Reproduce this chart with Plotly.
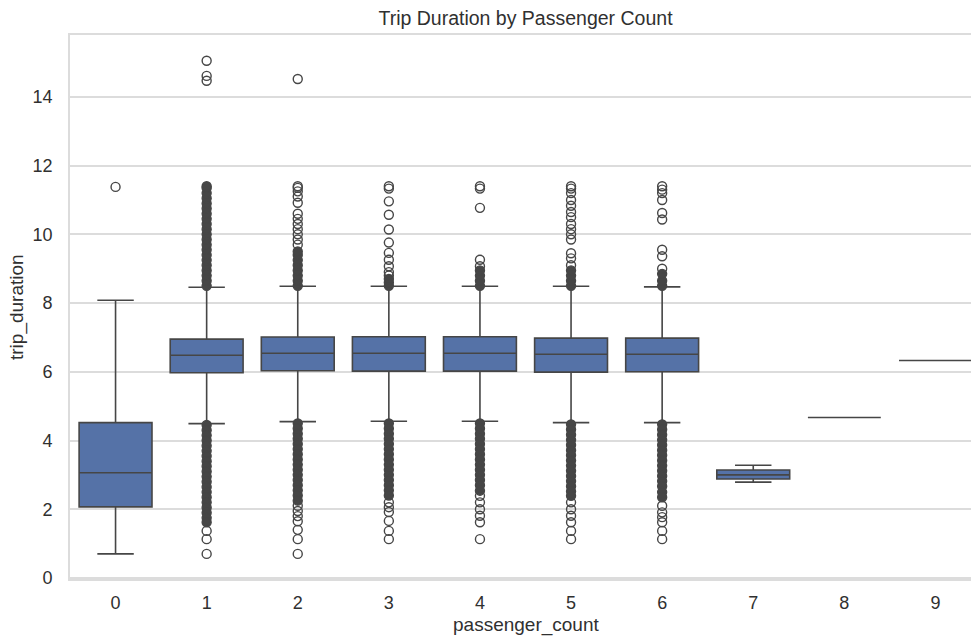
import plotly.graph_objects as go

# ---------------- data ----------------
categories = ["0", "1", "2", "3", "4", "5", "6", "7", "8", "9"]

q1_values = [2.07, 5.97, 6.03, 6.02, 6.02, 5.99, 6.00, 2.88, 4.67, 6.33]
median_values = [3.06, 6.48, 6.54, 6.54, 6.54, 6.51, 6.51, 3.00, 4.67, 6.33]
q3_values = [4.52, 6.95, 7.01, 7.02, 7.02, 6.98, 6.98, 3.14, 4.67, 6.33]
lower_whisker = [0.70, 4.49, 4.55, 4.56, 4.56, 4.52, 4.52, 2.79, 4.67, 6.33]
upper_whisker = [8.08, 8.46, 8.49, 8.49, 8.49, 8.49, 8.47, 3.28, 4.67, 6.33]

# sparse (individually visible) outliers per category
sparse_outliers = {
    "0": [11.38],
    "1": [14.47, 14.61, 15.05, 1.37, 1.13, 0.70],
    "2": [9.7, 9.85, 10.0, 10.15, 10.3, 10.45, 10.6, 10.92, 11.1, 11.25, 11.35, 11.4, 14.52,
          2.1, 1.95, 1.8, 1.65, 1.4, 1.13, 0.70],
    "3": [8.8, 8.9, 9.07, 9.26, 9.46, 9.76, 10.14, 10.57, 10.96, 11.33, 11.4,
          2.2, 2.06, 1.92, 1.66, 1.37, 1.13],
    "4": [9.07, 9.26, 10.77, 11.33, 11.4,
          2.39, 2.2, 2.0, 1.81, 1.62, 1.13],
    "5": [9.1, 9.3, 9.45, 9.85, 10.0, 10.15, 10.3, 10.5, 10.65, 10.83, 11.0, 11.2, 11.33, 11.4,
          2.2, 2.0, 1.81, 1.62, 1.37, 1.13],
    "6": [9.0, 9.36, 9.55, 10.43, 10.62, 11.0, 11.2, 11.3, 11.4,
          2.1, 1.91, 1.77, 1.62, 1.37, 1.13],
}

# dense (overlapping, visually solid) outlier runs per category
dense_outliers = {
    "1": [8.5, 8.65, 8.8, 8.95, 9.1, 9.25, 9.4, 9.55, 9.7, 9.85, 10.0, 10.15, 10.3, 10.45,
          10.6, 10.75, 10.9, 11.05, 11.2, 11.35, 11.4,
          4.45, 4.3, 4.15, 4.0, 3.85, 3.7, 3.55, 3.4, 3.25, 3.1, 2.95, 2.8, 2.65, 2.5, 2.35,
          2.2, 2.05, 1.9, 1.75, 1.62],
    "2": [8.5, 8.65, 8.8, 8.95, 9.1, 9.25, 9.4, 9.5,
          4.5, 4.35, 4.2, 4.05, 3.9, 3.75, 3.6, 3.45, 3.3, 3.15, 3.0, 2.85, 2.7, 2.55, 2.4,
          2.25],
    "3": [8.5, 8.6, 8.7,
          4.5, 4.35, 4.2, 4.05, 3.9, 3.75, 3.6, 3.45, 3.3, 3.15, 3.0, 2.85, 2.7, 2.55, 2.4],
    "4": [8.5, 8.65, 8.8, 8.95,
          4.5, 4.35, 4.2, 4.05, 3.9, 3.75, 3.6, 3.45, 3.3, 3.15, 3.0, 2.85, 2.7, 2.54],
    "5": [8.5, 8.65, 8.8, 8.95,
          4.47, 4.32, 4.17, 4.02, 3.87, 3.72, 3.57, 3.42, 3.27, 3.12, 2.97, 2.82, 2.67, 2.52,
          2.39],
    "6": [8.5, 8.65, 8.85,
          4.47, 4.32, 4.17, 4.02, 3.87, 3.72, 3.57, 3.42, 3.27, 3.12, 2.97, 2.82, 2.67, 2.5,
          2.35],
}

y_ticks = [0, 2, 4, 6, 8, 10, 12, 14]

# ---------------- styling ----------------
BOX_FILL = "#5572a7"
LINE_COL = "#464646"
GRID_COL = "#dcdcdc"
TEXT_COL = "#303030"
FONT = "Liberation Sans, Arial, sans-serif"

fig = go.Figure()

fig.add_trace(go.Box(
    x=categories,
    q1=q1_values,
    median=median_values,
    q3=q3_values,
    lowerfence=lower_whisker,
    upperfence=upper_whisker,
    boxpoints=False,
    fillcolor=BOX_FILL,
    line=dict(color=LINE_COL, width=1.6),
    whiskerwidth=0.5,
    width=0.8,
    showlegend=False,
    hoverinfo="skip",
))

dx, dy = [], []
for cat, vals in dense_outliers.items():
    for v in vals:
        dx.append(cat)
        dy.append(v)
fig.add_trace(go.Scatter(
    x=dx, y=dy, mode="markers",
    marker=dict(symbol="circle", size=9, color=LINE_COL,
                line=dict(color=LINE_COL, width=1.4)),
    showlegend=False, hoverinfo="skip",
))

sx, sy = [], []
for cat, vals in sparse_outliers.items():
    for v in vals:
        sx.append(cat)
        sy.append(v)
fig.add_trace(go.Scatter(
    x=sx, y=sy, mode="markers",
    marker=dict(symbol="circle-open", size=9, color=LINE_COL,
                line=dict(color=LINE_COL, width=1.4)),
    showlegend=False, hoverinfo="skip",
))

W, H = 971, 637
ML, MR, MT, MB = 70, 0, 35, 58
pw = W - ML - MR

fig.update_layout(
    width=W, height=H,
    margin=dict(l=ML, r=MR, t=MT, b=MB),
    paper_bgcolor="white",
    plot_bgcolor="white",
    font=dict(family=FONT, color=TEXT_COL, size=18),
    title=dict(
        text="Trip Duration by Passenger Count",
        x=(525.5 - ML) / pw, xref="paper", xanchor="center",
        y=1 - 18 / H, yref="container", yanchor="middle",
        font=dict(family=FONT, size=19.5, color=TEXT_COL),
    ),
    xaxis=dict(
        type="category",
        categoryorder="array", categoryarray=categories,
        range=[-0.5, -0.5 + pw / 91.1],
        showgrid=False, zeroline=False,
        showline=True, linecolor=GRID_COL, linewidth=1.6, mirror=True,
        ticks="outside", ticklen=7, tickcolor="rgba(0,0,0,0)",
        tickfont=dict(size=18, color=TEXT_COL),
    ),
    yaxis=dict(
        range=[-0.03, 15.8],
        tickvals=y_ticks,
        showgrid=True, gridcolor=GRID_COL, gridwidth=1.6,
        zeroline=False,
        showline=True, linecolor=GRID_COL, linewidth=1.6, mirror=False,
        ticks="outside", ticklen=12, tickcolor="rgba(0,0,0,0)",
        tickfont=dict(size=18, color=TEXT_COL),
    ),
    annotations=[
        dict(text="passenger_count", xref="paper", yref="paper",
             x=(525.5 - ML) / pw, y=-(625 - (H - MB)) / (H - MT - MB),
             xanchor="center", yanchor="middle", showarrow=False,
             font=dict(family=FONT, size=19, color=TEXT_COL)),
        dict(text="trip_duration", xref="paper", yref="paper",
             x=(17 - ML) / pw, y=0.5, textangle=-90,
             xanchor="center", yanchor="middle", showarrow=False,
             font=dict(family=FONT, size=19, color=TEXT_COL)),
    ],
)

fig.write_html(
    "out.html",
    config={"displayModeBar": False},
    post_script="document.body.style.margin='0px';document.body.style.overflow='hidden';",
)
